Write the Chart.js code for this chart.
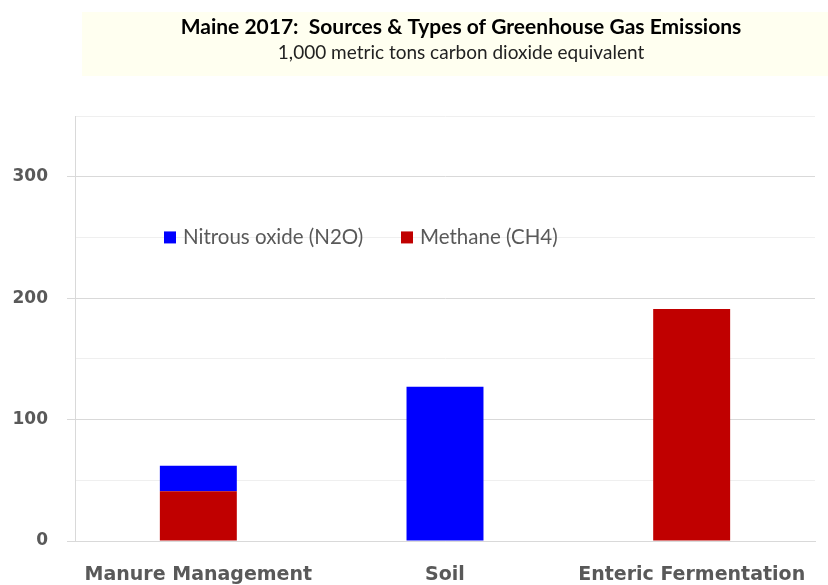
<!DOCTYPE html>
<html>
<head>
<meta charset="utf-8">
<script src="https://cdn.jsdelivr.net/npm/chart.js@4.4.1/dist/chart.umd.min.js"></script>
<style>
  html, body { margin: 0; padding: 0; background: #fff; }
  #wrap { width: 828px; height: 585px; }
</style>
</head>
<body>
<div id="wrap"><canvas id="chart" width="828" height="585"></canvas></div>
<script>
// 데이터
const titleText = 'Maine 2017:  Sources & Types of Greenhouse Gas Emissions';
const subtitleText = '1,000 metric tons carbon dioxide equivalent';
const categories = ['Manure Management', 'Soil', 'Enteric Fermentation'];
const methaneValues = [41, null, 191];
const nitrousValues = [21, 127, null];
const yTicks = [0, 100, 200, 300];

const FONT = 'Lato, "Open Sans", sans-serif';
const AXIS_FONT = '"DejaVu Sans", Verdana, sans-serif';
const GRAY = '#595959';

// 제목 상자 그리기
const titleBox = {
  id: 'titleBox',
  beforeDraw(chart) {
    const ctx = chart.ctx;
    ctx.save();
    ctx.fillStyle = '#FFFFF0';
    ctx.fillRect(82, 12, 746, 64);
    ctx.fillStyle = '#000';
    ctx.textAlign = 'center';
    ctx.textBaseline = 'middle';
    ctx.font = 'bold 21px ' + FONT;
    ctx.fillText(titleText, 461, 27);
    ctx.font = '19px ' + FONT;
    ctx.fillStyle = '#222';
    ctx.fillText(subtitleText, 461, 53);
    ctx.restore();
  },
};

// 범례 그리기 (차트 영역 안, 250 선 위)
const innerLegend = {
  id: 'innerLegend',
  afterDatasetsDraw(chart) {
    const ctx = chart.ctx;
    const y = chart.scales.y.getPixelForValue(250);
    const items = chart.data.datasets.slice().reverse();
    const xs = [chart.chartArea.left + 89, chart.chartArea.left + 326];
    ctx.save();
    ctx.font = '20.5px ' + FONT;
    ctx.textBaseline = 'middle';
    ctx.textAlign = 'left';
    items.forEach((ds, i) => {
      ctx.fillStyle = ds.backgroundColor;
      ctx.fillRect(xs[i], y - 6, 12, 12);
      ctx.fillStyle = GRAY;
      ctx.fillText(ds.label, xs[i] + 19, y);
    });
    ctx.restore();
  },
};

const isMajor = (v) => v % 100 === 0;

new Chart(document.getElementById('chart').getContext('2d'), {
  type: 'bar',
  data: {
    labels: categories,
    datasets: [
      { label: 'Methane (CH4)', data: methaneValues, backgroundColor: '#C00000' },
      { label: 'Nitrous oxide (N2O)', data: nitrousValues, backgroundColor: '#0000FF' },
    ],
  },
  options: {
    responsive: false,
    animation: false,
    layout: { padding: { top: 116, right: 13, left: 0, bottom: 0 } },
    datasets: {
      bar: { categoryPercentage: 1, barPercentage: 0.312 },
    },
    plugins: {
      legend: { display: false },
      title: { display: false },
      tooltip: { enabled: false },
    },
    scales: {
      x: {
        stacked: true,
        grid: { display: false, drawTicks: true, tickLength: 14 },
        border: { color: '#d9d9d9' },
        ticks: { color: GRAY, font: { family: AXIS_FONT, size: 19, weight: 'bold' }, padding: 9 },
        afterFit(scale) { scale.height = 44; },
      },
      y: {
        stacked: true,
        min: 0,
        max: 350,
        border: { color: '#d9d9d9' },
        grid: {
          color: (c) => (isMajor(c.tick.value) ? '#d9d9d9' : '#efefef'),
          tickColor: (c) => (isMajor(c.tick.value) ? '#d9d9d9' : 'rgba(0,0,0,0)'),
          tickLength: 8,
        },
        ticks: {
          stepSize: 50,
          padding: 19,
          color: GRAY,
          font: { family: AXIS_FONT, size: 17, weight: 'bold' },
          callback: (v) => (yTicks.includes(v) ? v : ''),
        },
        afterFit(scale) { scale.width = 75; },
      },
    },
  },
  plugins: [titleBox, innerLegend],
});
</script>
</body>
</html>
